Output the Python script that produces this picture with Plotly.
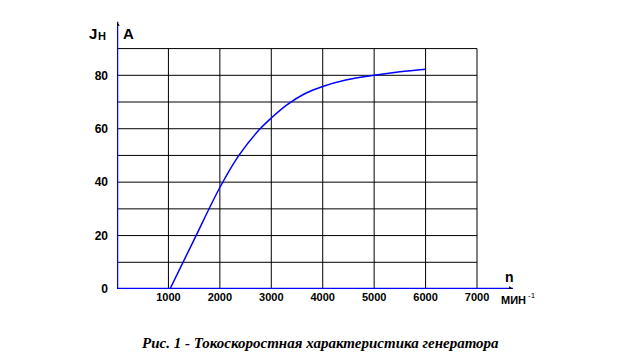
import plotly.graph_objects as go

# Data
speed = [1030, 1500, 2000, 2370, 2760, 3000, 3310, 3640, 4000, 4470, 5000, 5500, 6000]
current = [0, 18.5, 38, 50, 59.5, 64, 69, 73, 75.8, 78.3, 80, 81.3, 82.3]
x_ticks = [1000, 2000, 3000, 4000, 5000, 6000, 7000]
y_ticks = [0, 20, 40, 60, 80]
x_grid = [1000, 2000, 3000, 4000, 5000, 6000, 7000]
y_grid = [10, 20, 30, 40, 50, 60, 70, 80, 90]
x_max, y_max = 7000, 90

fig = go.Figure()
font = "Liberation Sans, Arial, sans-serif"

# grid
gx, gy = [], []
for v in x_grid:
    gx += [v, v, None]
    gy += [0, y_max, None]
for h in y_grid:
    gx += [0, x_max, None]
    gy += [h, h, None]
fig.add_trace(go.Scatter(x=gx, y=gy, mode="lines", line=dict(color="black", width=1),
                         hoverinfo="skip", showlegend=False))

# axes (blue)
fig.add_trace(go.Scatter(x=[0, 0, None, 0, 7700], y=[100, 0, None, 0, 0], mode="lines",
                         line=dict(color="#0000ff", width=2.5), hoverinfo="skip", showlegend=False))

# curve
fig.add_trace(go.Scatter(x=speed, y=current, mode="lines",
                         line=dict(color="#0000ff", width=1.5, shape="spline", smoothing=1),
                         showlegend=False))

# arrow heads at axis ends
fig.add_trace(go.Scatter(x=[0, 7650], y=[99, 0], mode="markers",
                         marker=dict(symbol=["triangle-up", "triangle-right"], size=5, color="black"),
                         hoverinfo="skip", showlegend=False))

# page body has an 8px margin, so the figure is 8px smaller
W, H = 632, 356
L, T, R, B = 109, 12, 120, 75

fig.update_layout(
    width=W, height=H,
    margin=dict(l=L, r=R, t=T, b=B, autoexpand=False),
    paper_bgcolor="white", plot_bgcolor="white",
    xaxis=dict(range=[0, 7836], showgrid=False, zeroline=False, showline=False, automargin=False,
               tickvals=x_ticks, ticktext=[f"<b>{v}</b>" for v in x_ticks],
               tickfont=dict(family=font, size=11, color="black"), ticks=""),
    yaxis=dict(range=[0, 100.7], showgrid=False, zeroline=False, showline=False, automargin=False,
               tickvals=y_ticks, ticktext=[f"<b>{v}</b>" for v in y_ticks],
               tickfont=dict(family=font, size=12, color="black"), ticks="",
               ticklabelstandoff=8),
    font=dict(family=font),
)

anns = [
    dict(x=0, y=100, text="<b>J</b>", xanchor="right", yanchor="middle",
         xshift=-18, yshift=-12, font=dict(size=15, color="black")),
    dict(x=0, y=100, text="<b>Н</b>", xanchor="right", yanchor="middle",
         xshift=-9, yshift=-14, font=dict(size=11, color="black")),
    dict(x=0, y=100, text="<b>A</b>", xanchor="left", yanchor="middle",
         xshift=4, yshift=-12, font=dict(size=15, color="black")),
    dict(x=7700, y=0, text="<b>n</b>", xanchor="center", yanchor="bottom",
         xshift=-4, yshift=2, font=dict(size=14, color="black")),
    dict(x=7700, y=0, text="<b>МИН</b>", xanchor="center", yanchor="top",
         xshift=0, yshift=-3, font=dict(size=11, color="black")),
    dict(x=7700, y=0, text="-1", xanchor="left", yanchor="top",
         xshift=13, yshift=0, font=dict(size=8, color="black")),
]
for a in anns:
    a.update(showarrow=False, xref="x", yref="y")
    fig.add_annotation(**a)

ph = H - T - B
pw = W - L - R
fig.add_annotation(text="<b><i>Рис. 1 - Токоскоростная характеристика генератора</i></b>",
                   x=(320 - 8 - L) / pw, y=-(343 - 289) / ph,
                   xref="paper", yref="paper", showarrow=False, xanchor="center", yanchor="middle",
                   font=dict(family="Liberation Serif, Times New Roman, serif", size=15, color="black"))

fig.write_html("out.html")
